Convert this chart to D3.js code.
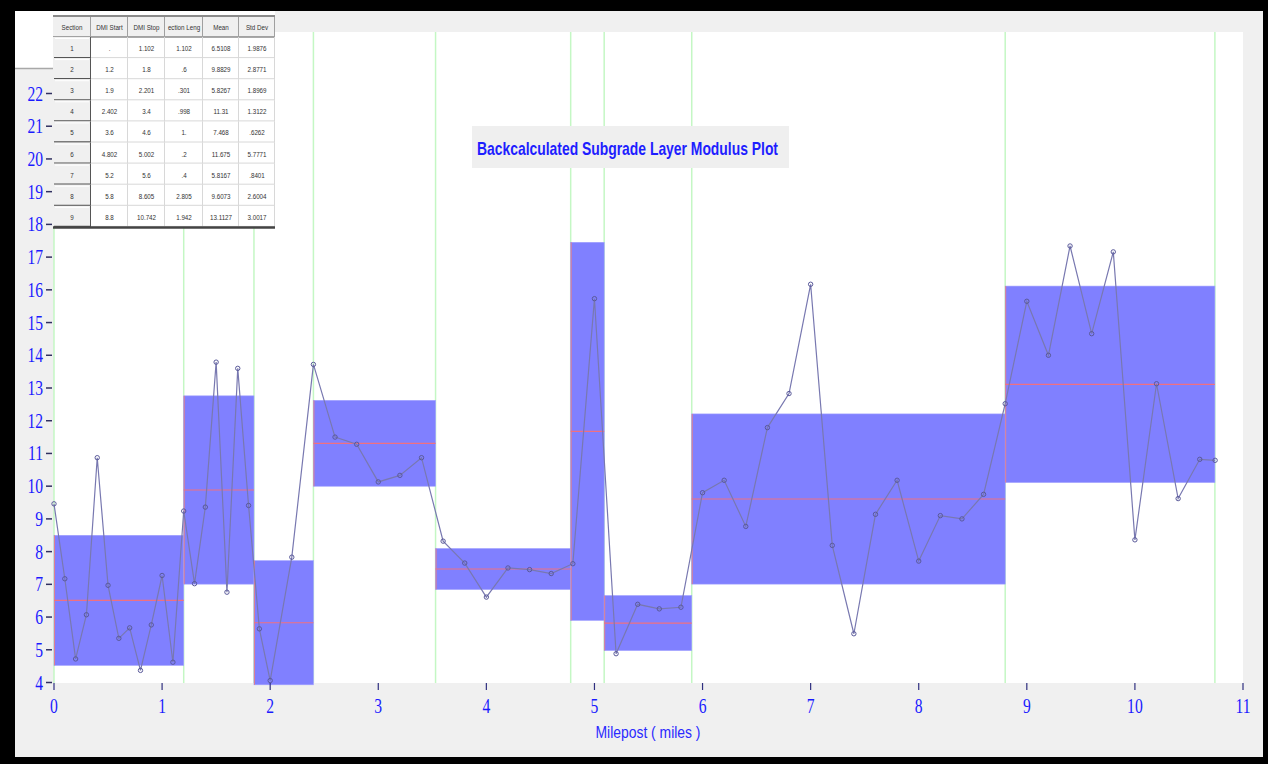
<!DOCTYPE html>
<html><head><meta charset="utf-8">
<script src="https://cdn.jsdelivr.net/npm/d3@7"></script>
<style>body{margin:0;background:#000;} svg{display:block}</style>
</head><body>
<svg id="chart" width="1268" height="764"></svg>
<script>
// ---------- DATA ----------
const milepost = [0,0.1,0.2,0.3,0.4,0.5,0.6,0.7,0.8,0.9,1.0,1.1,1.2,1.3,1.4,1.5,1.6,1.7,1.8,1.9,2.0,2.2,2.4,2.6,2.8,3.0,3.2,3.4,3.6,3.8,4.0,4.2,4.4,4.6,4.8,5.0,5.2,5.4,5.6,5.8,6.0,6.2,6.4,6.6,6.8,7.0,7.2,7.4,7.6,7.8,8.0,8.2,8.4,8.6,8.8,9.0,9.2,9.4,9.6,9.8,10.0,10.2,10.4,10.6,10.742];
const modulus = [9.46,7.17,4.72,6.07,10.87,6.97,5.35,5.67,4.37,5.76,7.27,4.62,9.24,7.02,9.36,13.79,6.76,13.6,9.41,5.64,4.06,7.83,13.72,11.5,11.28,10.13,10.33,10.87,8.32,7.65,6.61,7.5,7.45,7.33,7.63,15.73,4.88,6.39,6.25,6.30,9.80,10.18,8.77,11.79,12.83,16.17,8.19,5.49,9.14,10.18,7.71,9.10,9.0,9.75,12.52,15.65,14.0,17.34,14.66,17.16,8.36,13.13,9.62,10.82,10.79];

// sections (table)
const sectionId   = ["1","2","3","4","5","6","7","8","9"];
const dmiStart    = [".","1.2","1.9","2.402","3.6","4.802","5.2","5.8","8.8"];
const dmiStop     = ["1.102","1.8","2.201","3.4","4.6","5.002","5.6","8.605","10.742"];
const sectionLen  = ["1.102",".6",".301",".998","1.",".2",".4","2.805","1.942"];
const meanTxt     = ["6.5108","9.8829","5.8267","11.31","7.468","11.675","5.8167","9.6073","13.1127"];
const sdTxt       = ["1.9876","2.8771","1.8969","1.3122",".6262","5.7771",".8401","2.6004","3.0017"];
const tableHeaders = ["Section","DMI Start","DMI Stop","ection Leng","Mean","Std Dev"];

// drawn section extents (miles) and stats
const boxStart = [0,1.2,1.85,2.4,3.53,4.78,5.09,5.9,8.8];
const boxEnd   = [1.2,1.85,2.4,3.53,4.78,5.09,5.9,8.8,10.74];
const sectionMean = [6.5108,9.8829,5.8267,11.31,7.468,11.675,5.8167,9.6073,13.1127];
const sectionSd   = [1.9876,2.8771,1.8969,1.3122,0.6262,5.7771,0.8401,2.6004,3.0017];
const boundaries  = [0,1.2,1.85,2.4,3.53,4.78,5.09,5.9,8.8,10.74];

const xTicks = [0,1,2,3,4,5,6,7,8,9,10,11];
const yTicks = [4,5,6,7,8,9,10,11,12,13,14,15,16,17,18,19,20,21,22];
const title = "Backcalculated Subgrade Layer Modulus Plot";
const xLabel = "Milepost  ( miles )";

// ---------- DRAW ----------
const svg = d3.select("#chart");
const x = d3.scaleLinear().domain([0, 11]).range([54, 1243]);
const y = d3.scaleLinear().domain([4, 22]).range([682.5, 93.5]);

// frame
svg.append("rect").attr("x",0).attr("y",0).attr("width",1268).attr("height",764).attr("fill","#000");
svg.append("rect").attr("x",15).attr("y",11).attr("width",1248).attr("height",746).attr("fill","#f0f0f0");
// plot area
svg.append("rect").attr("x",54).attr("y",32).attr("width",1189).attr("height",651).attr("fill","#fff");
// top-left white patch
svg.append("rect").attr("x",15).attr("y",11).attr("width",260).attr("height",57).attr("fill","#fff");
svg.append("line").attr("x1",15).attr("x2",54).attr("y1",68.5).attr("y2",68.5).attr("stroke","#a8a8a8").attr("stroke-width",1.5);

// green boundary lines
svg.append("g").selectAll("line").data(boundaries).join("line")
  .attr("x1",d=>x(d)).attr("x2",d=>x(d)).attr("y1",32).attr("y2",683)
  .attr("stroke","#c4f7c4").attr("stroke-width",1.5);

// boxes
const secIdx = d3.range(boxStart.length);
svg.append("g").selectAll("rect").data(secIdx).join("rect")
  .attr("x",i=>x(boxStart[i])).attr("width",i=>x(boxEnd[i])-x(boxStart[i]))
  .attr("y",i=>y(sectionMean[i]+sectionSd[i]))
  .attr("height",i=>y(sectionMean[i]-sectionSd[i])-y(sectionMean[i]+sectionSd[i]))
  .attr("fill","#8080ff").attr("stroke","#a0a0ff").attr("stroke-width",0.6);
// pink left edges
svg.append("g").selectAll("line").data(secIdx).join("line")
  .attr("x1",i=>x(boxStart[i])+0.5).attr("x2",i=>x(boxStart[i])+0.5)
  .attr("y1",i=>y(sectionMean[i]+sectionSd[i])).attr("y2",i=>y(sectionMean[i]-sectionSd[i]))
  .attr("stroke","#e08090").attr("stroke-width",1);
// mean lines
svg.append("g").selectAll("line").data(secIdx).join("line")
  .attr("x1",i=>x(boxStart[i])).attr("x2",i=>x(boxEnd[i]))
  .attr("y1",i=>y(sectionMean[i])).attr("y2",i=>y(sectionMean[i]))
  .attr("stroke","#f07080").attr("stroke-width",1.2);

// data line
const pts = milepost.map((m,i)=>[m, modulus[i]]);
svg.append("path").datum(pts)
  .attr("d", d3.line().x(d=>x(d[0])).y(d=>y(d[1])))
  .attr("fill","none").attr("stroke","#7878b0").attr("stroke-width",1.2);
svg.append("g").selectAll("circle").data(pts).join("circle")
  .attr("cx",d=>x(d[0])).attr("cy",d=>y(d[1])).attr("r",2.2)
  .attr("fill","none").attr("stroke","#5a5a9a").attr("stroke-width",1);

// y axis ticks & labels
const yg = svg.append("g");
yg.selectAll("line").data(yTicks).join("line")
  .attr("x1",46).attr("x2",52).attr("y1",d=>y(d)).attr("y2",d=>y(d))
  .attr("stroke","#303060").attr("stroke-width",1.5);
yg.selectAll("text").data(yTicks).join("text")
  .attr("transform",d=>`translate(43,${y(d)+7}) scale(0.78,1)`)
  .attr("text-anchor","end").attr("fill","#1a1aff")
  .attr("font-family","Liberation Serif, serif").attr("font-size",20)
  .text(d=>d);

// x axis ticks & labels
const xg = svg.append("g");
xg.selectAll("line").data(xTicks).join("line")
  .attr("x1",d=>x(d)).attr("x2",d=>x(d)).attr("y1",683).attr("y2",690)
  .attr("stroke","#303080").attr("stroke-width",1.2);
xg.selectAll("text").data(xTicks).join("text")
  .attr("transform",d=>`translate(${x(d)},${713}) scale(0.78,1)`)
  .attr("text-anchor","middle").attr("fill","#1a1aff")
  .attr("font-family","Liberation Serif, serif").attr("font-size",20)
  .text(d=>d);
svg.append("text").attr("x",648).attr("y",738).attr("text-anchor","middle")
  .attr("fill","#2a2aff").attr("font-family","Liberation Sans Narrow, Arial Narrow, Liberation Sans, sans-serif")
  .attr("font-size",16).attr("textLength",105).attr("lengthAdjust","spacingAndGlyphs")
  .text(xLabel);

// title
svg.append("rect").attr("x",472).attr("y",126).attr("width",317).attr("height",42).attr("fill","#efefef");
svg.append("text").attr("x",477).attr("y",155)
  .attr("fill","#1e1eff").attr("font-weight","bold")
  .attr("font-family","Liberation Sans Narrow, Arial Narrow, Liberation Sans, sans-serif")
  .attr("font-size",19).attr("textLength",301).attr("lengthAdjust","spacingAndGlyphs")
  .text(title);

// ---------- TABLE ----------
const colX = [53,91,128,165,203,239,275];
const headTop = 17, headH = 20, rowH = 21.1;
const tbl = svg.append("g").attr("font-family","Liberation Sans Narrow, Arial Narrow, Liberation Sans, sans-serif")
  .attr("font-size",8).attr("fill","#333");
tbl.append("rect").attr("x",53).attr("y",headTop).attr("width",222).attr("height",headH+9*rowH).attr("fill","#fff");
// header
tbl.append("rect").attr("x",53).attr("y",headTop).attr("width",222).attr("height",headH).attr("fill","#f0f0f0");
tbl.append("line").attr("x1",53).attr("x2",275).attr("y1",headTop-1).attr("y2",headTop-1).attr("stroke","#8a8a8a").attr("stroke-width",2);
tbl.append("line").attr("x1",53).attr("x2",275).attr("y1",headTop+headH).attr("y2",headTop+headH).attr("stroke","#555").attr("stroke-width",1);
tableHeaders.forEach((h,c)=>{
  tbl.append("text").attr("transform",`translate(${(colX[c]+colX[c+1])/2},${headTop+13}) scale(0.78,1)`)
    .attr("text-anchor","middle").text(h);
  tbl.append("line").attr("x1",colX[c+1]-0.5).attr("x2",colX[c+1]-0.5).attr("y1",headTop).attr("y2",headTop+headH).attr("stroke","#a0a0a0");
});
const rows = sectionId.map((s,i)=>[s,dmiStart[i],dmiStop[i],sectionLen[i],meanTxt[i],sdTxt[i]]);
rows.forEach((r,i)=>{
  const ry = headTop+headH+i*rowH;
  // first column button cell
  tbl.append("rect").attr("x",53).attr("y",ry).attr("width",colX[1]-53).attr("height",rowH).attr("fill","#f0f0f0");
  tbl.append("line").attr("x1",54).attr("x2",colX[1]).attr("y1",ry+rowH-0.5).attr("y2",ry+rowH-0.5).attr("stroke","#555").attr("stroke-width",1.3);
  tbl.append("line").attr("x1",colX[1]-0.5).attr("x2",colX[1]-0.5).attr("y1",ry).attr("y2",ry+rowH).attr("stroke","#555").attr("stroke-width",1);
  tbl.append("line").attr("x1",55).attr("x2",colX[1]-2).attr("y1",ry+1.5).attr("y2",ry+1.5).attr("stroke","#fff");
  // grid lines for data cells
  tbl.append("line").attr("x1",colX[1]).attr("x2",275).attr("y1",ry+rowH-0.5).attr("y2",ry+rowH-0.5).attr("stroke","#d8d8d8");
  for(let c=2;c<=6;c++){
    tbl.append("line").attr("x1",colX[c]-0.5).attr("x2",colX[c]-0.5).attr("y1",ry).attr("y2",ry+rowH).attr("stroke","#d8d8d8");
  }
  r.forEach((t,c)=>{
    tbl.append("text").attr("transform",`translate(${(colX[c]+colX[c+1])/2},${ry+14}) scale(0.78,1)`)
      .attr("text-anchor","middle").text(t);
  });
});
tbl.append("line").attr("x1",53).attr("x2",275).attr("y1",headTop+headH+9*rowH+0.5).attr("y2",headTop+headH+9*rowH+0.5).attr("stroke","#444").attr("stroke-width",2.5);
</script>
</body></html>
